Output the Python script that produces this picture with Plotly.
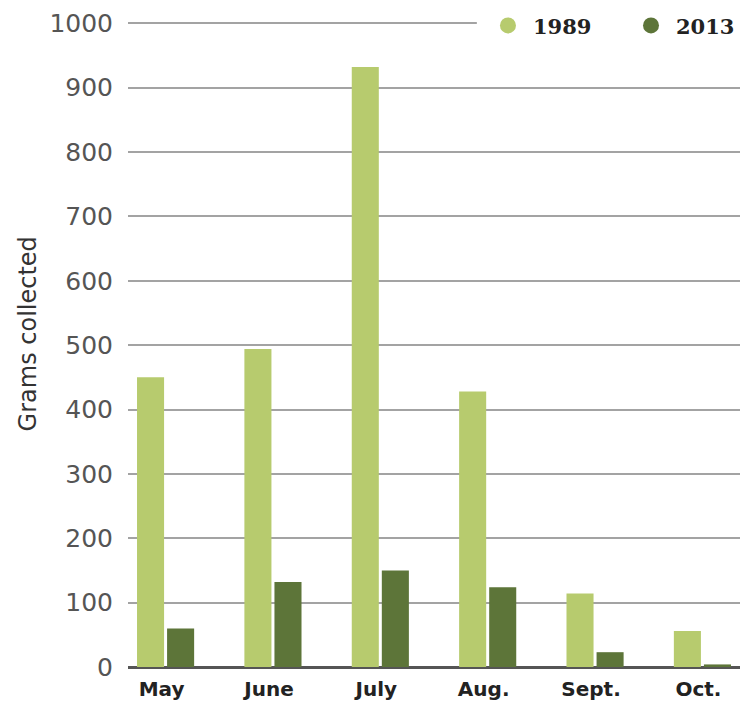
import plotly.graph_objects as go

months = ["May", "June", "July", "Aug.", "Sept.", "Oct."]
grams_1989 = [450, 494, 932, 428, 114, 56]
grams_2013 = [60, 132, 150, 124, 23, 4]
series_names = ["1989", "2013"]
colors = ["#b7cb6e", "#5d7539"]
y_ticks = [0, 100, 200, 300, 400, 500, 600, 700, 800, 900, 1000]

fig = go.Figure()
for name, vals, col in zip(series_names, [grams_1989, grams_2013], colors):
    fig.add_trace(go.Bar(x=months, y=vals, name=name, marker_color=col,
                         marker_line_width=0, showlegend=False))
legend_ids = ["legend", "legend2"]
for name, col, lg in zip(series_names, colors, legend_ids):
    fig.add_trace(go.Scatter(x=[None], y=[None], mode="markers", name=name,
                             marker=dict(color=col, size=22, symbol="circle"),
                             showlegend=True, legend=lg))

legend_style = dict(orientation="h", y=1.026, yanchor="top",
                    bgcolor="rgba(0,0,0,0)", itemwidth=40,
                    font=dict(family="DejaVu Serif", size=21, color="#222", weight="bold"))

fig.update_layout(
    width=745, height=717,
    margin=dict(l=128, r=5, t=22, b=50),
    paper_bgcolor="white", plot_bgcolor="white",
    barmode="group", bargap=0.44, bargroupgap=0.1,
    legend=dict(x=0.580, xanchor="left", **legend_style),
    legend2=dict(x=1.0, xanchor="right", **legend_style),
    shapes=[dict(type="rect", xref="paper", yref="paper", x0=0.570, x1=1.02, y0=0.99, y1=1.02,
                 fillcolor="white", line_width=0, layer="above")],
    annotations=[dict(text="Grams collected", textangle=-90, xref="paper", yref="paper",
                      x=-0.163, y=0.516, showarrow=False, xanchor="center", yanchor="middle",
                      font=dict(family="DejaVu Sans", size=24, color="#333"))],
    xaxis=dict(type="category", range=[-0.35, 5.35], showgrid=False, showline=False,
               ticks="", ticklabelstandoff=8, ticklabelshift=-4,
               tickfont=dict(family="DejaVu Sans", size=20, color="#222", weight="bold")),
    yaxis=dict(range=[0, 1002], tickvals=y_ticks, showgrid=True, gridcolor="#a3a3a3", gridwidth=2,
               zeroline=True, zerolinecolor="#555", zerolinewidth=3, showline=False,
               ticks="", ticklabelstandoff=14, automargin=False,
               tickfont=dict(family="DejaVu Sans", size=25, color="#555")),
)
fig.write_html("out.html")
